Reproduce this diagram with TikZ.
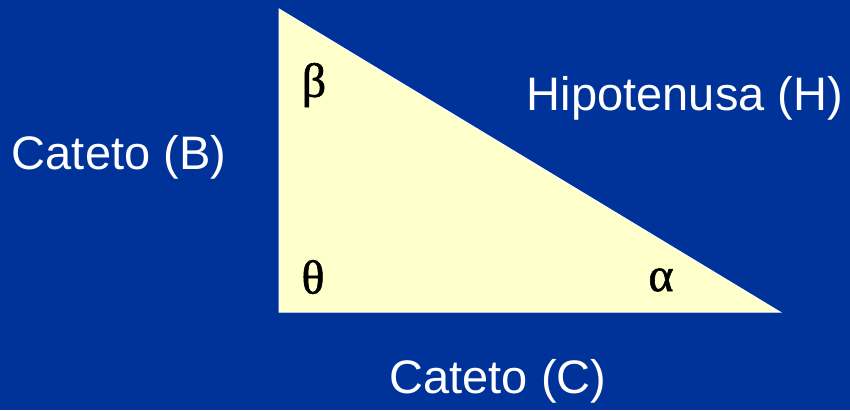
\documentclass[tikz,border=0pt]{standalone}
\usepackage{fontspec}
\setmainfont{Liberation Sans}
\newfontfamily\greekfont[FakeBold=1.2]{Liberation Serif}
\usepackage{xcolor}
\definecolor{slideblue}{HTML}{003399}
\definecolor{trianglefill}{HTML}{FFFFCC}

\begin{document}
\begin{tikzpicture}[x=1pt,y=-1pt,
  every node/.style={font=\fontsize{47}{52}\selectfont},
  sidelabel/.style={text=white,inner sep=0pt},
  anglelabel/.style={text=black,inner sep=0pt,font=\fontsize{48}{52}\selectfont\greekfont}]
  \fill[slideblue] (0,0) rectangle (850,410);
  \useasboundingbox (0,0) rectangle (850,410);
  \coordinate (top) at (279,9);
  \coordinate (corner) at (279,312);
  \coordinate (tip) at (780,312);
  \draw[white,line width=1pt,fill=trianglefill] (top) -- (corner) -- (tip) -- cycle;
  \node[anglelabel] (beta) at (314,85) {β};
  \node[anglelabel] (theta) at (313,277) {θ};
  \node[anglelabel] (alpha) at (661,280) {α};
  \node[sidelabel] (catetoB) at (119,157) {Cateto (B)};
  \node[sidelabel] (hipotenusa) at (685,98) {Hipotenusa (H)};
  \node[sidelabel] (catetoC) at (498,381) {Cateto (C)};
\end{tikzpicture}
\end{document}
